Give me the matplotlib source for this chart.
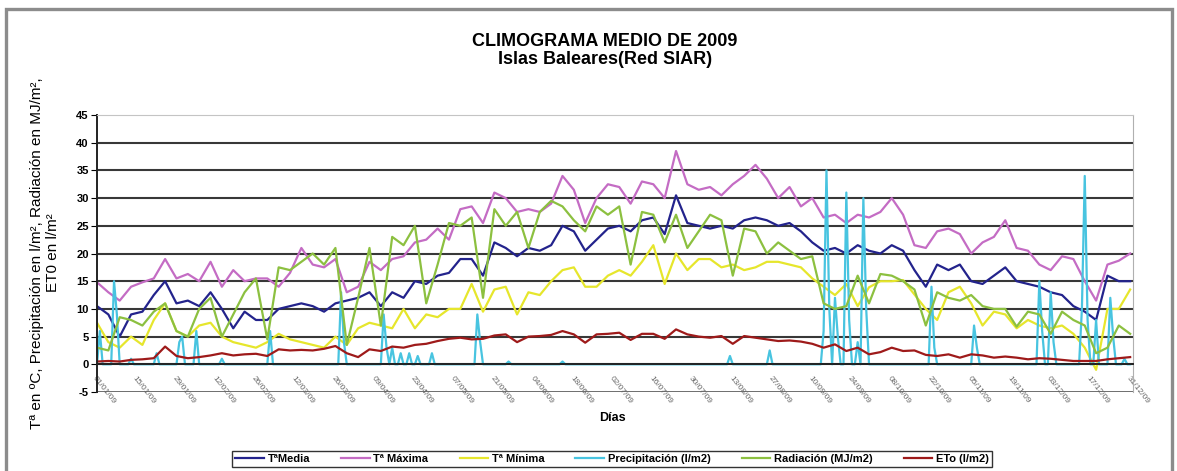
import numpy as np
import pandas as pd
import matplotlib
matplotlib.use('Agg')
import matplotlib.pyplot as plt
from matplotlib.patches import Rectangle

plt.rcParams['font.family'] = ['Liberation Sans', 'DejaVu Sans']

# Values every 4 days (day 0 = 01/01/2009)
days = np.arange(0, 365, 4)

t_media = [10.5, 9, 5, 9, 9.5, 12.5, 15, 11, 11.5, 10.5,
           13, 10, 6.5, 9.5, 8, 8, 10, 10.5, 11, 10.5,
           9.5, 11, 11.5, 12, 13, 10.5, 13, 12, 15, 14.5,
           16, 16.5, 19, 19, 16, 22, 21, 19.5, 21, 20.5,
           21.5, 25, 24, 20.5, 22.5, 24.5, 25, 24, 26, 26.5,
           23.5, 30.5, 25.5, 25, 24.5, 25, 24.5, 26, 26.5, 26,
           25, 25.5, 24, 22, 20.5, 21, 20, 21.5, 20.5, 20,
           21.5, 20.5, 17, 14, 18, 17, 18, 15, 14.5, 16,
           17.5, 15, 14.5, 14, 13, 12.5, 10.5, 9.5, 8, 16,
           15, 15]

t_maxima = [14.8, 13, 11.5, 14, 14.8, 15.5, 19, 15.5, 16.3, 15,
            18.5, 14, 17, 15, 15.5, 15.5, 14, 16.5, 21, 18,
            17.5, 19, 13, 14, 18.5, 17, 19, 19.5, 22, 22.5,
            24.5, 22.5, 28, 28.5, 25.5, 31, 30, 27.5, 28, 27.5,
            29, 34, 31.5, 25.5, 30, 32.5, 32, 29, 33, 32.5,
            30, 38.5, 32.5, 31.5, 32, 30.5, 32.5, 34, 36, 33.5,
            30, 32, 28.5, 30, 26.5, 27, 25.5, 27, 26.5, 27.5,
            30, 27, 21.5, 21, 24, 24.5, 23.5, 20, 22, 23,
            26, 21, 20.5, 18, 17, 19.5, 19, 15, 11.5, 18,
            18.7, 20]

t_minima = [7.5, 4, 3, 5, 3.5, 8, 11, 6, 5, 7,
            7.5, 5, 4, 3.5, 3, 4, 5.5, 4.5, 4, 3.5,
            3, 5, 3.5, 6.5, 7.5, 7, 6.5, 10, 6.5, 9,
            8.5, 10, 10, 14.5, 9.5, 13.5, 14, 9, 13, 12.5,
            15, 17, 17.5, 14, 14, 16, 17, 16, 18.5, 21.5,
            14.5, 20, 17, 19, 19, 17.5, 18, 17, 17.5, 18.5,
            18.5, 18, 17.5, 15.5, 14, 12.5, 14.5, 10.5, 13.9, 15,
            15, 15.2, 12.6, 10, 8, 13, 14, 11, 7, 9.5,
            9, 6.5, 8, 7, 6.5, 7, 5.5, 3, -1, 10,
            10, 13.5]

radiacion = [3, 2.5, 8.5, 8, 7, 9.5, 11, 6, 5, 10,
             12, 5, 9, 13, 15.5, 4.5, 17.5, 17, 18.5, 20,
             18, 21, 3.5, 12, 21, 7, 23, 21.5, 25, 11,
             18, 25.5, 25, 26.5, 12, 28, 25, 27.5, 21, 27.5,
             29.5, 28.5, 26, 24, 28.5, 27, 28.5, 18, 27.5, 27,
             22, 27, 21, 24, 27, 26, 16, 24.5, 24, 20,
             22, 20.5, 19, 19.5, 11, 10, 10.5, 16, 11, 16.3,
             16, 15, 13.5, 7, 13, 12, 11.5, 12.5, 10.5, 10,
             10, 6.8, 9.5, 9, 5.5, 9.5, 8, 7, 2, 3,
             7, 5.5]

eto = [0.5, 0.6, 0.5, 0.8, 0.9, 1.1, 3.2, 1.5, 1.1, 1.3,
       1.6, 2.0, 1.6, 1.8, 1.9, 1.5, 2.7, 2.5, 2.6, 2.5,
       2.8, 3.3, 2.0, 1.3, 2.7, 2.4, 3.2, 3.0, 3.5, 3.7,
       4.2, 4.6, 4.8, 4.5, 4.6, 5.2, 5.4, 4.0, 5.0, 5.1,
       5.3, 6.0, 5.4, 3.9, 5.4, 5.5, 5.7, 4.4, 5.5, 5.5,
       4.6, 6.3, 5.4, 5.0, 4.8, 5.1, 3.7, 5.1, 4.8, 4.5,
       4.2, 4.3, 4.1, 3.7, 3.0, 3.6, 2.4, 3.0, 1.8, 2.2,
       3.0, 2.4, 2.5, 1.7, 1.5, 1.8, 1.2, 1.8, 1.6, 1.2,
       1.4, 1.2, 0.9, 1.1, 1.0, 0.8, 0.6, 0.6, 0.6, 0.9,
       1.1, 1.3]

# Rainy days (day of year, l/m2); every other day is 0
rain_days = [1, 6, 7, 12, 21, 29, 30, 35, 44, 61, 86, 87, 101, 102, 104, 107,
             110, 113, 118, 134, 135, 145, 164, 223, 237, 256, 257, 258, 260,
             261, 264, 265, 268, 270, 271, 294, 295, 309, 310, 332, 333, 336,
             337, 347, 348, 349, 352, 357, 358, 362]
rain_vals = [6, 15, 9, 1, 2, 4, 5, 6, 1, 6, 13, 4, 9, 3, 3, 2,
             2, 1.5, 2, 9, 4, 0.5, 0.5, 1.5, 2.5, 6, 35, 10, 12,
             5, 31, 8, 4, 30, 10, 14, 3, 7, 3, 15, 6, 13,
             4, 10, 34, 8, 8, 12, 5, 1]

all_days = np.arange(365)
precip = np.zeros(365)
precip[rain_days] = rain_vals

tick_days = np.arange(0, 365, 14)
tick_labels = pd.Timestamp('2009-01-01') + pd.to_timedelta(tick_days, unit='D')
tick_labels = [d.strftime('%d/%m/%y') for d in tick_labels]

W, H = 1177, 471
fig = plt.figure(figsize=(W / 100, H / 100), dpi=100)
# grey frame round the chart (its lower edge falls outside the picture)
fig.patches.append(Rectangle((6 / W, -10 / H), 1166 / W, 472 / H, transform=fig.transFigure,
                             fill=False, edgecolor='#8c8c8c', lw=2.4))

ax = fig.add_axes([97 / W, 1 - 392 / H, 1036 / W, 277 / H])

for lev in range(0, 45, 5):
    ax.axhline(lev, color='#383838', lw=1.5, zorder=0.5)
ax.axhline(-5, color='#555555', lw=1.2, zorder=0.5)

lw = 1.6
ax.plot(days, t_media, color='#23238C', lw=lw, label='TªMedia')
ax.plot(days, t_maxima, color='#C46CC4', lw=lw, label='Tª Máxima')
ax.plot(days, t_minima, color='#E6E62C', lw=lw, label='Tª Mínima')
ax.plot(all_days, precip, color='#48C4E0', lw=lw, label='Precipitación (l/m2)')
ax.plot(days, radiacion, color='#8CC040', lw=lw, label='Radiación (MJ/m2)')
ax.plot(days, eto, color='#9E1A1A', lw=lw, label='ETo (l/m2)')

ax.set_xlim(0, 365)
ax.set_ylim(-5, 45)
ax.set_yticks(range(-5, 50, 5))
ax.set_yticklabels([str(v) for v in range(-5, 50, 5)], fontsize=8, fontweight='bold')
ax.tick_params(axis='y', direction='out', length=4, pad=2, color='black')

ax.spines['bottom'].set_position(('data', 0))
ax.spines['bottom'].set_color('#222222')
ax.spines['bottom'].set_linewidth(1.4)
ax.spines['left'].set_color('#222222')
ax.spines['left'].set_linewidth(1.4)
ax.spines['top'].set_color('#c4c4c4')
ax.spines['right'].set_color('#b0b0b0')

ax.set_xticks(tick_days)
ax.set_xticklabels(tick_labels, fontsize=6, color='#666666', rotation=-52,
                   ha='left', va='top', rotation_mode='anchor')
ax.tick_params(axis='x', length=0, pad=8)

fig.text(605 / W, 1 - 41 / H, 'CLIMOGRAMA MEDIO DE 2009', ha='center', va='center',
         fontsize=13, fontweight='bold')
fig.text(605 / W, 1 - 59 / H, 'Islas Baleares(Red SIAR)', ha='center', va='center',
         fontsize=13, fontweight='bold')
fig.text(45 / W, 1 - 253 / H,
         'Tª en ºC, Precipitación en l/m², Radiación en MJ/m²,\nET0 en l/m²',
         rotation=90, ha='center', va='center', multialignment='center', fontsize=11)
fig.text(612 / W, 1 - 418 / H, 'Días', ha='center', va='center', fontsize=9,
         fontweight='bold')

leg = fig.legend(loc='center', bbox_to_anchor=(612 / W, 1 - 459 / H), ncol=6,
                 prop={'weight': 'bold', 'size': 8}, frameon=True,
                 fancybox=False, edgecolor='black', handlelength=2.6,
                 handletextpad=0.3, columnspacing=2.8, borderpad=0.3)
leg.get_frame().set_linewidth(1.0)

fig.savefig('out.png', dpi=100)
